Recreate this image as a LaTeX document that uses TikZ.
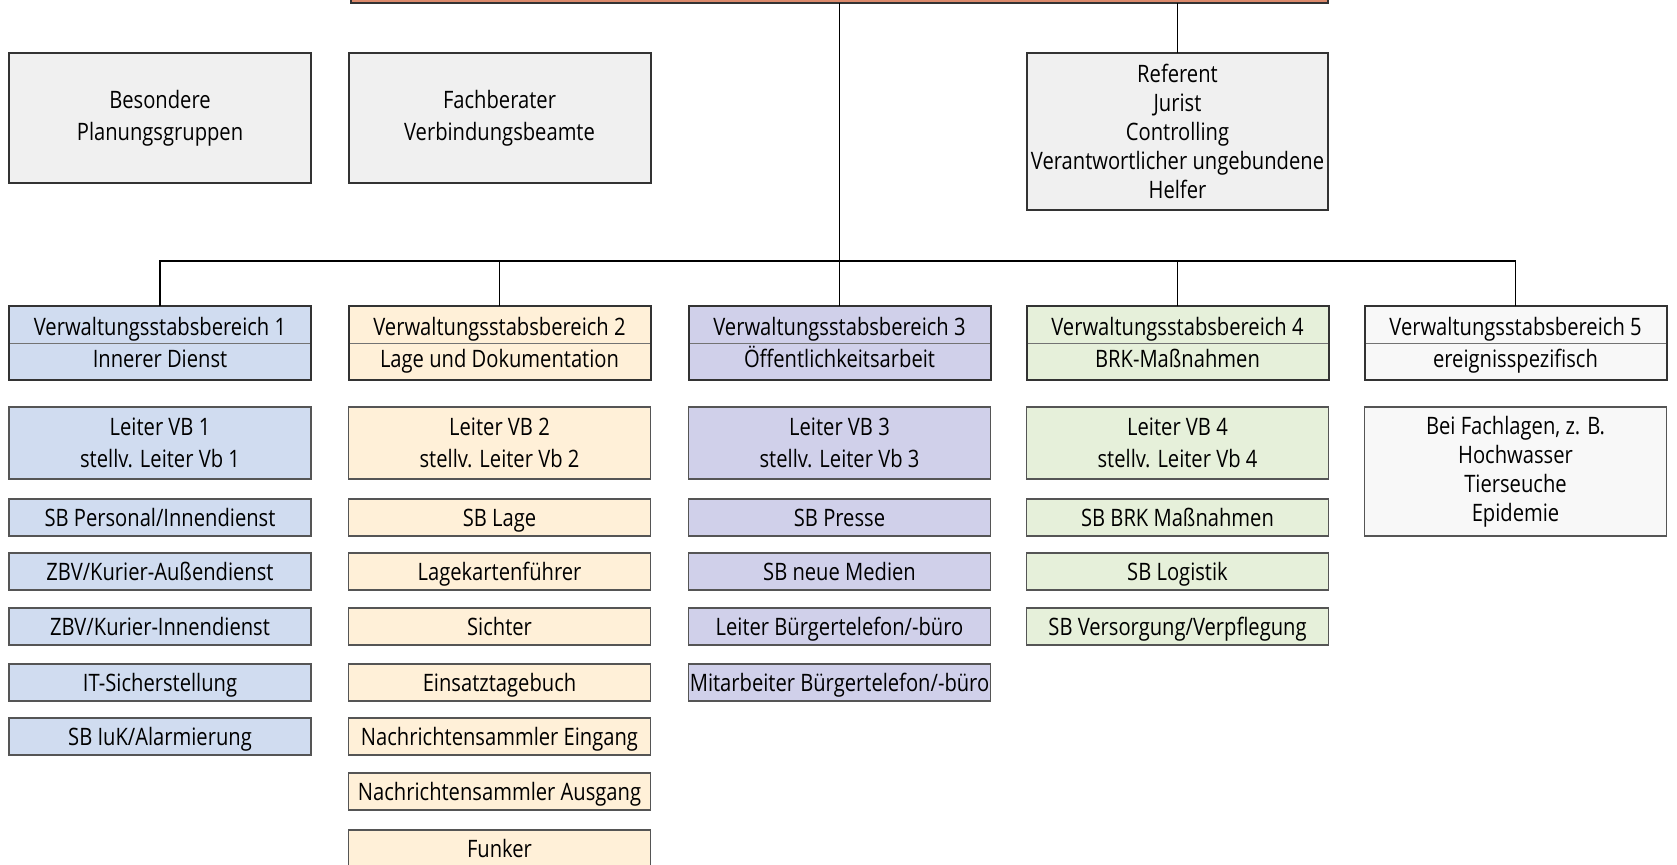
\documentclass[tikz,border=0pt]{standalone}
\usepackage{fontspec}
\setmainfont{Open Sans}[FakeStretch=0.84]
\definecolor{cblue}{HTML}{D0DCF0}
\definecolor{cpeach}{HTML}{FFF0D8}
\definecolor{clav}{HTML}{D0D0EA}
\definecolor{cgreen}{HTML}{E6F0DA}
\definecolor{cwhite}{HTML}{F8F8F8}
\definecolor{cgray}{HTML}{F0F0F0}
\definecolor{csalmon}{HTML}{DC8A6C}
\definecolor{bdark}{HTML}{333333}
\definecolor{bmid}{HTML}{555555}
\begin{document}
\begin{tikzpicture}[x=0.5pt,y=-0.5pt,
  every node/.style={inner sep=0pt, outer sep=0pt, font=\fontsize{12}{14.6}\selectfont, align=center},
  bigbox/.style={draw=bdark, line width=1pt, minimum width=151pt},
  hdrbox/.style={draw=bdark, line width=1pt, minimum width=151pt, minimum height=37pt},
  subbox/.style={draw=bmid, line width=0.55pt, minimum width=151pt},
  smallbox/.style={draw=bmid, line width=0.55pt, minimum width=151pt, minimum height=18.5pt, text height=8.6pt, text depth=0pt},
  lbl/.style={text height=8.6pt, text depth=0pt},
  divider/.style={draw=black!55, line width=0.5pt},
  conn/.style={draw=black, line width=0.75pt}
]
\useasboundingbox (0,0) rectangle (1677,864);

% top box (cut off)
\node[draw=bdark, line width=1pt, fill=csalmon, minimum width=488.5pt, minimum height=30pt] (tb) at (839.5,-27) {};

% upper row
\node[bigbox, fill=cgray, minimum height=65pt] (bes) at (160,118) {Besondere\\[1.2pt]Planungsgruppen};
\node[bigbox, fill=cgray, minimum height=65pt] (fach) at (499.5,118) {Fachberater\\[1.2pt]Verbindungsbeamte};
\node[bigbox, fill=cgray, minimum width=150.5pt, minimum height=78.5pt] (ref) at (1177.5,131.5) {Referent\\Jurist\\Controlling\\Verantwortlicher ungebundene\\Helfer};

% headers
\node[hdrbox, fill=cblue]  (v1) at (160,343) {};
\node[hdrbox, fill=cpeach] (v2) at (499.5,343) {};
\node[hdrbox, fill=clav]   (v3) at (839.5,343) {};
\node[hdrbox, fill=cgreen] (v4) at (1177.5,343) {};
\node[hdrbox, fill=cwhite] (v5) at (1515.5,343) {};
\foreach \n in {v1,v2,v3,v4,v5} \draw[divider] ([xshift=0.5pt]\n.west) -- ([xshift=-0.5pt]\n.east);
\node[lbl] (v1a) at (160,326.5) {Verwaltungsstabsbereich 1};
\node[lbl] (v1b) at (160,358.5) {Innerer Dienst};
\node[lbl] (v2a) at (499.5,326.5) {Verwaltungsstabsbereich 2};
\node[lbl] (v2b) at (499.5,358.5) {Lage und Dokumentation};
\node[lbl] (v3a) at (839.5,326.5) {Verwaltungsstabsbereich 3};
\node[lbl] (v3b) at (839.5,358.5) {Öffentlichkeitsarbeit};
\node[lbl] (v4a) at (1177.5,326.5) {Verwaltungsstabsbereich 4};
\node[lbl] (v4b) at (1177.5,358.5) {BRK-Maßnahmen};
\node[lbl] (v5a) at (1515.5,326.5) {Verwaltungsstabsbereich 5};
\node[lbl] (v5b) at (1515.5,358.5) {ereignisspezifisch};

% leader boxes
\node[subbox, fill=cblue,  minimum height=36pt, font=\fontsize{12}{15.8}\selectfont] (l1) at (160,443) {Leiter VB 1\\stellv. Leiter Vb 1};
\node[subbox, fill=cpeach, minimum height=36pt, font=\fontsize{12}{15.8}\selectfont] (l2) at (499.5,443) {Leiter VB 2\\stellv. Leiter Vb 2};
\node[subbox, fill=clav,   minimum height=36pt, font=\fontsize{12}{15.8}\selectfont] (l3) at (839.5,443) {Leiter VB 3\\stellv. Leiter Vb 3};
\node[subbox, fill=cgreen, minimum height=36pt, font=\fontsize{12}{15.8}\selectfont] (l4) at (1177.5,443) {Leiter VB 4\\stellv. Leiter Vb 4};
\node[subbox, fill=cwhite, minimum height=64.5pt, font=\fontsize{12}{14.5}\selectfont] (l5) at (1515.5,471.5) {Bei Fachlagen, z. B.\\Hochwasser\\Tierseuche\\Epidemie};

% column 1
\node[smallbox, fill=cblue] (a1) at (160,517.5) {SB Personal/Innendienst};
\node[smallbox, fill=cblue] (a2) at (160,571.5) {ZBV/Kurier-Außendienst};
\node[smallbox, fill=cblue] (a3) at (160,626.5) {ZBV/Kurier-Innendienst};
\node[smallbox, fill=cblue] (a4) at (160,682.5) {IT-Sicherstellung};
\node[smallbox, fill=cblue] (a5) at (160,736.5) {SB IuK/Alarmierung};
% column 2
\node[smallbox, fill=cpeach] (b1) at (499.5,517.5) {SB Lage};
\node[smallbox, fill=cpeach] (b2) at (499.5,571.5) {Lagekartenführer};
\node[smallbox, fill=cpeach] (b3) at (499.5,626.5) {Sichter};
\node[smallbox, fill=cpeach] (b4) at (499.5,682.5) {Einsatztagebuch};
\node[smallbox, fill=cpeach] (b5) at (499.5,736.5) {Nachrichtensammler Eingang};
\node[smallbox, fill=cpeach] (b6) at (499.5,791.5) {Nachrichtensammler Ausgang};
\node[smallbox, fill=cpeach] (b7) at (499.5,848.5) {Funker};
% column 3
\node[smallbox, fill=clav] (c1) at (839.5,517.5) {SB Presse};
\node[smallbox, fill=clav] (c2) at (839.5,571.5) {SB neue Medien};
\node[smallbox, fill=clav] (c3) at (839.5,626.5) {Leiter Bürgertelefon/-büro};
\node[smallbox, fill=clav] (c4) at (839.5,682.5) {Mitarbeiter Bürgertelefon/-büro};
% column 4
\node[smallbox, fill=cgreen] (d1) at (1177.5,517.5) {SB BRK Maßnahmen};
\node[smallbox, fill=cgreen] (d2) at (1177.5,571.5) {SB Logistik};
\node[smallbox, fill=cgreen] (d3) at (1177.5,626.5) {SB Versorgung/Verpflegung};

% connectors
\coordinate (bus) at (839.5,261);
\draw[conn] (tb.south -| v3.north) -- (v3.north);
\draw[conn] (v1.north) |- (bus) -| (v5.north);
\draw[conn] (v2.north) -- (v2.north |- bus);
\draw[conn] (v4.north) -- (v4.north |- bus);
\draw[conn] (ref.north) -- (ref.north |- tb.south);
\end{tikzpicture}
\end{document}
